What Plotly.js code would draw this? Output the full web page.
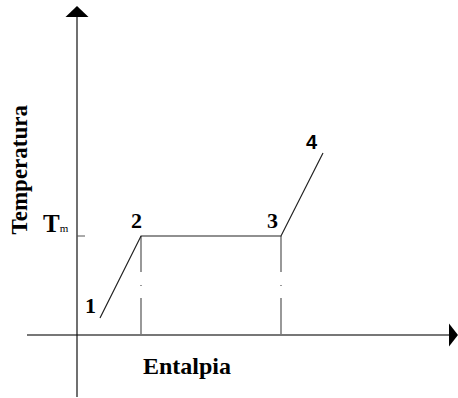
<!DOCTYPE html>
<html>
<head>
<meta charset="utf-8">
<script src="https://cdn.plot.ly/plotly-3.0.1.min.js"></script>
<style>
  html, body { margin: 0; padding: 0; background: #fff; }
  #chart { width: 458px; height: 398px; }
</style>
</head>
<body>
<div id="chart"></div>
<script>
// heating curve: sensible heat, melting plateau at Tm, sensible heat again
const pointLabels = ['1', '2', '3', '4'];
const enthalpy = [23, 64, 204, 246];
const temperature = [17, 99, 99, 182];

// drawing extent of the sketch (axis units, origin at the axes crossing)
const xRange = [-77, 381];
const yRange = [-63, 335];
const xAxisStart = -50;
const yAxisTop = 329;

const tm = temperature[1];
const serif = 'Liberation Serif, Times New Roman, serif';

function plotHeatingCurve() {
    const xArrowTip = xRange[1];
    const xArrowBase = xArrowTip - 9;
    const yArrowBase = yAxisTop - 11;

    const axes = [
        {
            x: [xAxisStart, xArrowBase], y: [0, 0],
            mode: 'lines', line: {color: '#777', width: 2}, hoverinfo: 'skip'
        },
        {
            x: [0, 0], y: [yRange[0] + 1, yArrowBase],
            mode: 'lines', line: {color: '#111', width: 1.2}, hoverinfo: 'skip'
        },
        {
            x: [0, 8], y: [tm, tm],
            mode: 'lines', line: {color: '#555', width: 1}, hoverinfo: 'skip'
        }
    ];

    // dash-dot drop lines from the ends of the plateau
    const drops = [1, 2].map(i => ({
        x: [enthalpy[i], enthalpy[i]],
        y: [temperature[i], 0],
        mode: 'lines',
        line: {color: '#555', width: 1.2, dash: '36px,13px,1px,12px'},
        hoverinfo: 'skip'
    }));

    const curve = {
        x: enthalpy,
        y: temperature,
        mode: 'lines',
        line: {color: '#222', width: 1.2},
        hoverinfo: 'skip'
    };

    const shapes = [
        {
            type: 'path', xref: 'x', yref: 'y',
            path: `M ${xArrowBase},-11.5 L ${xArrowTip},0 L ${xArrowBase},11.5 Z`,
            fillcolor: '#000', line: {width: 0}
        },
        {
            type: 'path', xref: 'x', yref: 'y',
            path: `M -11.5,${yArrowBase} L 0,${yAxisTop} L 11.5,${yArrowBase} Z`,
            fillcolor: '#000', line: {width: 0}
        }
    ];

    const labelShift = [[-10, 13], [-5, 16], [-9, 16], [-11, 11]];
    const annotations = pointLabels.map((t, i) => ({
        x: enthalpy[i], y: temperature[i],
        text: '<b>' + t + '</b>',
        showarrow: false,
        xshift: labelShift[i][0], yshift: labelShift[i][1],
        font: {
            family: i === 3 ? 'Liberation Sans, Arial, sans-serif' : serif,
            size: i === 3 ? 20 : 22,
            color: '#000'
        }
    }));

    annotations.push(
        {
            x: 0, y: tm, xanchor: 'right', yanchor: 'bottom', xshift: -6, yshift: -3,
            text: '<b>T</b><span style="font-size:11px">m</span>',
            showarrow: false, font: {family: serif, size: 25, color: '#000'}
        },
        {
            x: 110, y: 0, yshift: -31,
            text: '<b>Entalpia</b>',
            showarrow: false, font: {family: serif, size: 24, color: '#000'}
        },
        {
            xref: 'paper', x: 17 / 458, y: 165, textangle: -90, xshift: -13,
            text: '<b>Temperatura</b>',
            showarrow: false, font: {family: serif, size: 23, color: '#000'}
        }
    );

    const layout = {
        width: 458,
        height: 398,
        margin: {l: 0, r: 0, t: 0, b: 0},
        paper_bgcolor: '#fff',
        plot_bgcolor: '#fff',
        showlegend: false,
        xaxis: {visible: false, range: xRange, fixedrange: true},
        yaxis: {visible: false, range: yRange, fixedrange: true},
        shapes: shapes,
        annotations: annotations
    };

    Plotly.newPlot('chart', axes.concat(drops, [curve]), layout, {staticPlot: true});
}

plotHeatingCurve();
</script>
</body>
</html>
